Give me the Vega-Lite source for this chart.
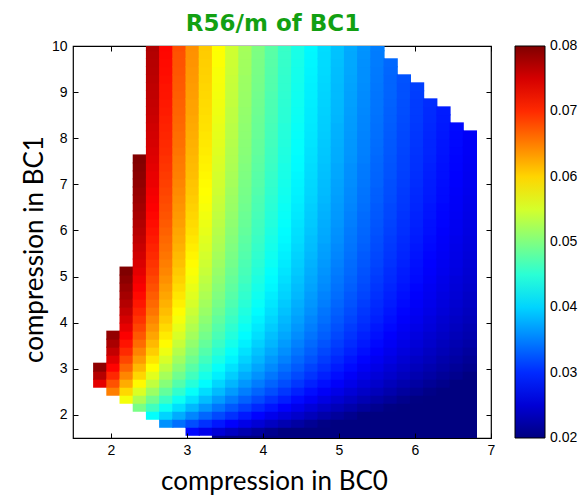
{
  "$schema": "https://vega.github.io/schema/vega-lite/v6.json",
  "description": "R56/m of BC1 over the compression in BC0 and BC1, drawn as a heat map of grid cells with a jet colour bar. Cells are drawn about one pixel wider and taller than the 0.1737 grid step so neighbours overlap instead of leaving hairline seams.",
  "width": 418,
  "height": 392,
  "autosize": {"type": "none"},
  "padding": {"left": 73, "top": 46, "right": 89, "bottom": 57},
  "background": "white",
  "config": {
    "view": {"stroke": "black", "strokeWidth": 1.2},
    "axis": {
      "grid": false, "domain": false,
      "tickColor": "black", "tickWidth": 1, "tickSize": -5,
      "labelFont": "Liberation Sans", "labelFontSize": 14, "labelColor": "black",
      "labelFlush": false, "labelOverlap": false, "format": "d",
      "titleFont": "Lato", "titleFontSize": 26, "titleFontWeight": "normal", "titleColor": "black"
    }
  },
  "title": {"text": "R56/m of BC1", "font": "DejaVu Sans", "fontSize": 23, "fontWeight": "bold", "color": "#12a012", "anchor": "middle", "baseline": "alphabetic", "offset": 16, "dx": -9, "dy": 31},
  "data": {"values": [
{"bc0":1.758,"bc1":2.6009,"r56":0.0741},{"bc0":1.758,"bc1":2.7746,"r56":0.0768},{"bc0":1.758,"bc1":2.9483,"r56":0.0791},
{"bc0":1.9317,"bc1":2.4272,"r56":0.0650},{"bc0":1.9317,"bc1":2.6009,"r56":0.0677},{"bc0":1.9317,"bc1":2.7746,"r56":0.0702},{"bc0":1.9317,"bc1":2.9483,"r56":0.0723},{"bc0":1.9317,"bc1":3.122,"r56":0.0743},{"bc0":1.9317,"bc1":3.2957,"r56":0.0760},{"bc0":1.9317,"bc1":3.4694,"r56":0.0775},{"bc0":1.9317,"bc1":3.6431,"r56":0.0789},
{"bc0":2.1054,"bc1":2.2535,"r56":0.0569},{"bc0":2.1054,"bc1":2.4272,"r56":0.0598},{"bc0":2.1054,"bc1":2.6009,"r56":0.0624},{"bc0":2.1054,"bc1":2.7746,"r56":0.0646},{"bc0":2.1054,"bc1":2.9483,"r56":0.0666},{"bc0":2.1054,"bc1":3.122,"r56":0.0684},{"bc0":2.1054,"bc1":3.2957,"r56":0.0700},{"bc0":2.1054,"bc1":3.4694,"r56":0.0714},{"bc0":2.1054,"bc1":3.6431,"r56":0.0727},{"bc0":2.1054,"bc1":3.8168,"r56":0.0739},{"bc0":2.1054,"bc1":3.9905,"r56":0.0750},{"bc0":2.1054,"bc1":4.1642,"r56":0.0760},{"bc0":2.1054,"bc1":4.3379,"r56":0.0769},{"bc0":2.1054,"bc1":4.5116,"r56":0.0778},{"bc0":2.1054,"bc1":4.6853,"r56":0.0785},{"bc0":2.1054,"bc1":4.859,"r56":0.0793},{"bc0":2.1054,"bc1":5.0327,"r56":0.0800},
{"bc0":2.2791,"bc1":2.0798,"r56":0.0496},{"bc0":2.2791,"bc1":2.2535,"r56":0.0527},{"bc0":2.2791,"bc1":2.4272,"r56":0.0554},{"bc0":2.2791,"bc1":2.6009,"r56":0.0578},{"bc0":2.2791,"bc1":2.7746,"r56":0.0599},{"bc0":2.2791,"bc1":2.9483,"r56":0.0617},{"bc0":2.2791,"bc1":3.122,"r56":0.0634},{"bc0":2.2791,"bc1":3.2957,"r56":0.0648},{"bc0":2.2791,"bc1":3.4694,"r56":0.0662},{"bc0":2.2791,"bc1":3.6431,"r56":0.0674},{"bc0":2.2791,"bc1":3.8168,"r56":0.0685},{"bc0":2.2791,"bc1":3.9905,"r56":0.0695},{"bc0":2.2791,"bc1":4.1642,"r56":0.0704},{"bc0":2.2791,"bc1":4.3379,"r56":0.0712},{"bc0":2.2791,"bc1":4.5116,"r56":0.0720},{"bc0":2.2791,"bc1":4.6853,"r56":0.0728},{"bc0":2.2791,"bc1":4.859,"r56":0.0734},{"bc0":2.2791,"bc1":5.0327,"r56":0.0741},{"bc0":2.2791,"bc1":5.2064,"r56":0.0747},{"bc0":2.2791,"bc1":5.3801,"r56":0.0752},{"bc0":2.2791,"bc1":5.5538,"r56":0.0757},{"bc0":2.2791,"bc1":5.7275,"r56":0.0762},{"bc0":2.2791,"bc1":5.9012,"r56":0.0767},{"bc0":2.2791,"bc1":6.0749,"r56":0.0771},{"bc0":2.2791,"bc1":6.2486,"r56":0.0775},{"bc0":2.2791,"bc1":6.4223,"r56":0.0779},{"bc0":2.2791,"bc1":6.596,"r56":0.0783},{"bc0":2.2791,"bc1":6.7697,"r56":0.0786},{"bc0":2.2791,"bc1":6.9434,"r56":0.0790},{"bc0":2.2791,"bc1":7.1171,"r56":0.0793},{"bc0":2.2791,"bc1":7.2908,"r56":0.0796},{"bc0":2.2791,"bc1":7.4645,"r56":0.0799},
{"bc0":2.4528,"bc1":1.9061,"r56":0.0427},{"bc0":2.4528,"bc1":2.0798,"r56":0.0462},{"bc0":2.4528,"bc1":2.2535,"r56":0.0491},{"bc0":2.4528,"bc1":2.4272,"r56":0.0516},{"bc0":2.4528,"bc1":2.6009,"r56":0.0538},{"bc0":2.4528,"bc1":2.7746,"r56":0.0558},{"bc0":2.4528,"bc1":2.9483,"r56":0.0575},{"bc0":2.4528,"bc1":3.122,"r56":0.0590},{"bc0":2.4528,"bc1":3.2957,"r56":0.0604},{"bc0":2.4528,"bc1":3.4694,"r56":0.0616},{"bc0":2.4528,"bc1":3.6431,"r56":0.0628},{"bc0":2.4528,"bc1":3.8168,"r56":0.0638},{"bc0":2.4528,"bc1":3.9905,"r56":0.0647},{"bc0":2.4528,"bc1":4.1642,"r56":0.0656},{"bc0":2.4528,"bc1":4.3379,"r56":0.0664},{"bc0":2.4528,"bc1":4.5116,"r56":0.0671},{"bc0":2.4528,"bc1":4.6853,"r56":0.0678},{"bc0":2.4528,"bc1":4.859,"r56":0.0684},{"bc0":2.4528,"bc1":5.0327,"r56":0.0690},{"bc0":2.4528,"bc1":5.2064,"r56":0.0695},{"bc0":2.4528,"bc1":5.3801,"r56":0.0701},{"bc0":2.4528,"bc1":5.5538,"r56":0.0705},{"bc0":2.4528,"bc1":5.7275,"r56":0.0710},{"bc0":2.4528,"bc1":5.9012,"r56":0.0714},{"bc0":2.4528,"bc1":6.0749,"r56":0.0718},{"bc0":2.4528,"bc1":6.2486,"r56":0.0722},{"bc0":2.4528,"bc1":6.4223,"r56":0.0726},{"bc0":2.4528,"bc1":6.596,"r56":0.0729},{"bc0":2.4528,"bc1":6.7697,"r56":0.0732},{"bc0":2.4528,"bc1":6.9434,"r56":0.0736},{"bc0":2.4528,"bc1":7.1171,"r56":0.0738},{"bc0":2.4528,"bc1":7.2908,"r56":0.0741},{"bc0":2.4528,"bc1":7.4645,"r56":0.0744},{"bc0":2.4528,"bc1":7.6382,"r56":0.0746},{"bc0":2.4528,"bc1":7.8119,"r56":0.0749},{"bc0":2.4528,"bc1":7.9856,"r56":0.0751},{"bc0":2.4528,"bc1":8.1593,"r56":0.0753},{"bc0":2.4528,"bc1":8.333,"r56":0.0756},{"bc0":2.4528,"bc1":8.5067,"r56":0.0758},{"bc0":2.4528,"bc1":8.6804,"r56":0.0760},{"bc0":2.4528,"bc1":8.8541,"r56":0.0762},{"bc0":2.4528,"bc1":9.0278,"r56":0.0763},{"bc0":2.4528,"bc1":9.2015,"r56":0.0765},{"bc0":2.4528,"bc1":9.3752,"r56":0.0767},{"bc0":2.4528,"bc1":9.5489,"r56":0.0768},{"bc0":2.4528,"bc1":9.7226,"r56":0.0770},{"bc0":2.4528,"bc1":9.8963,"r56":0.0772},
{"bc0":2.6265,"bc1":1.7324,"r56":0.0361},{"bc0":2.6265,"bc1":1.9061,"r56":0.0400},{"bc0":2.6265,"bc1":2.0798,"r56":0.0432},{"bc0":2.6265,"bc1":2.2535,"r56":0.0460},{"bc0":2.6265,"bc1":2.4272,"r56":0.0483},{"bc0":2.6265,"bc1":2.6009,"r56":0.0504},{"bc0":2.6265,"bc1":2.7746,"r56":0.0522},{"bc0":2.6265,"bc1":2.9483,"r56":0.0538},{"bc0":2.6265,"bc1":3.122,"r56":0.0552},{"bc0":2.6265,"bc1":3.2957,"r56":0.0565},{"bc0":2.6265,"bc1":3.4694,"r56":0.0577},{"bc0":2.6265,"bc1":3.6431,"r56":0.0587},{"bc0":2.6265,"bc1":3.8168,"r56":0.0597},{"bc0":2.6265,"bc1":3.9905,"r56":0.0606},{"bc0":2.6265,"bc1":4.1642,"r56":0.0614},{"bc0":2.6265,"bc1":4.3379,"r56":0.0621},{"bc0":2.6265,"bc1":4.5116,"r56":0.0628},{"bc0":2.6265,"bc1":4.6853,"r56":0.0634},{"bc0":2.6265,"bc1":4.859,"r56":0.0640},{"bc0":2.6265,"bc1":5.0327,"r56":0.0646},{"bc0":2.6265,"bc1":5.2064,"r56":0.0651},{"bc0":2.6265,"bc1":5.3801,"r56":0.0656},{"bc0":2.6265,"bc1":5.5538,"r56":0.0660},{"bc0":2.6265,"bc1":5.7275,"r56":0.0664},{"bc0":2.6265,"bc1":5.9012,"r56":0.0668},{"bc0":2.6265,"bc1":6.0749,"r56":0.0672},{"bc0":2.6265,"bc1":6.2486,"r56":0.0676},{"bc0":2.6265,"bc1":6.4223,"r56":0.0679},{"bc0":2.6265,"bc1":6.596,"r56":0.0682},{"bc0":2.6265,"bc1":6.7697,"r56":0.0685},{"bc0":2.6265,"bc1":6.9434,"r56":0.0688},{"bc0":2.6265,"bc1":7.1171,"r56":0.0691},{"bc0":2.6265,"bc1":7.2908,"r56":0.0694},{"bc0":2.6265,"bc1":7.4645,"r56":0.0696},{"bc0":2.6265,"bc1":7.6382,"r56":0.0699},{"bc0":2.6265,"bc1":7.8119,"r56":0.0701},{"bc0":2.6265,"bc1":7.9856,"r56":0.0703},{"bc0":2.6265,"bc1":8.1593,"r56":0.0705},{"bc0":2.6265,"bc1":8.333,"r56":0.0707},{"bc0":2.6265,"bc1":8.5067,"r56":0.0709},{"bc0":2.6265,"bc1":8.6804,"r56":0.0711},{"bc0":2.6265,"bc1":8.8541,"r56":0.0713},{"bc0":2.6265,"bc1":9.0278,"r56":0.0714},{"bc0":2.6265,"bc1":9.2015,"r56":0.0716},{"bc0":2.6265,"bc1":9.3752,"r56":0.0718},{"bc0":2.6265,"bc1":9.5489,"r56":0.0719},{"bc0":2.6265,"bc1":9.7226,"r56":0.0721},{"bc0":2.6265,"bc1":9.8963,"r56":0.0722},
{"bc0":2.8002,"bc1":1.7324,"r56":0.0340},{"bc0":2.8002,"bc1":1.9061,"r56":0.0376},{"bc0":2.8002,"bc1":2.0798,"r56":0.0406},{"bc0":2.8002,"bc1":2.2535,"r56":0.0432},{"bc0":2.8002,"bc1":2.4272,"r56":0.0454},{"bc0":2.8002,"bc1":2.6009,"r56":0.0474},{"bc0":2.8002,"bc1":2.7746,"r56":0.0491},{"bc0":2.8002,"bc1":2.9483,"r56":0.0506},{"bc0":2.8002,"bc1":3.122,"r56":0.0519},{"bc0":2.8002,"bc1":3.2957,"r56":0.0531},{"bc0":2.8002,"bc1":3.4694,"r56":0.0542},{"bc0":2.8002,"bc1":3.6431,"r56":0.0552},{"bc0":2.8002,"bc1":3.8168,"r56":0.0561},{"bc0":2.8002,"bc1":3.9905,"r56":0.0569},{"bc0":2.8002,"bc1":4.1642,"r56":0.0577},{"bc0":2.8002,"bc1":4.3379,"r56":0.0584},{"bc0":2.8002,"bc1":4.5116,"r56":0.0590},{"bc0":2.8002,"bc1":4.6853,"r56":0.0596},{"bc0":2.8002,"bc1":4.859,"r56":0.0602},{"bc0":2.8002,"bc1":5.0327,"r56":0.0607},{"bc0":2.8002,"bc1":5.2064,"r56":0.0612},{"bc0":2.8002,"bc1":5.3801,"r56":0.0616},{"bc0":2.8002,"bc1":5.5538,"r56":0.0621},{"bc0":2.8002,"bc1":5.7275,"r56":0.0625},{"bc0":2.8002,"bc1":5.9012,"r56":0.0628},{"bc0":2.8002,"bc1":6.0749,"r56":0.0632},{"bc0":2.8002,"bc1":6.2486,"r56":0.0635},{"bc0":2.8002,"bc1":6.4223,"r56":0.0638},{"bc0":2.8002,"bc1":6.596,"r56":0.0641},{"bc0":2.8002,"bc1":6.7697,"r56":0.0644},{"bc0":2.8002,"bc1":6.9434,"r56":0.0647},{"bc0":2.8002,"bc1":7.1171,"r56":0.0650},{"bc0":2.8002,"bc1":7.2908,"r56":0.0652},{"bc0":2.8002,"bc1":7.4645,"r56":0.0654},{"bc0":2.8002,"bc1":7.6382,"r56":0.0657},{"bc0":2.8002,"bc1":7.8119,"r56":0.0659},{"bc0":2.8002,"bc1":7.9856,"r56":0.0661},{"bc0":2.8002,"bc1":8.1593,"r56":0.0663},{"bc0":2.8002,"bc1":8.333,"r56":0.0665},{"bc0":2.8002,"bc1":8.5067,"r56":0.0667},{"bc0":2.8002,"bc1":8.6804,"r56":0.0668},{"bc0":2.8002,"bc1":8.8541,"r56":0.0670},{"bc0":2.8002,"bc1":9.0278,"r56":0.0672},{"bc0":2.8002,"bc1":9.2015,"r56":0.0673},{"bc0":2.8002,"bc1":9.3752,"r56":0.0675},{"bc0":2.8002,"bc1":9.5489,"r56":0.0676},{"bc0":2.8002,"bc1":9.7226,"r56":0.0677},{"bc0":2.8002,"bc1":9.8963,"r56":0.0679},
{"bc0":2.9739,"bc1":1.5587,"r56":0.0279},{"bc0":2.9739,"bc1":1.7324,"r56":0.0320},{"bc0":2.9739,"bc1":1.9061,"r56":0.0354},{"bc0":2.9739,"bc1":2.0798,"r56":0.0383},{"bc0":2.9739,"bc1":2.2535,"r56":0.0408},{"bc0":2.9739,"bc1":2.4272,"r56":0.0428},{"bc0":2.9739,"bc1":2.6009,"r56":0.0447},{"bc0":2.9739,"bc1":2.7746,"r56":0.0463},{"bc0":2.9739,"bc1":2.9483,"r56":0.0477},{"bc0":2.9739,"bc1":3.122,"r56":0.0490},{"bc0":2.9739,"bc1":3.2957,"r56":0.0501},{"bc0":2.9739,"bc1":3.4694,"r56":0.0511},{"bc0":2.9739,"bc1":3.6431,"r56":0.0521},{"bc0":2.9739,"bc1":3.8168,"r56":0.0529},{"bc0":2.9739,"bc1":3.9905,"r56":0.0537},{"bc0":2.9739,"bc1":4.1642,"r56":0.0544},{"bc0":2.9739,"bc1":4.3379,"r56":0.0551},{"bc0":2.9739,"bc1":4.5116,"r56":0.0557},{"bc0":2.9739,"bc1":4.6853,"r56":0.0562},{"bc0":2.9739,"bc1":4.859,"r56":0.0568},{"bc0":2.9739,"bc1":5.0327,"r56":0.0572},{"bc0":2.9739,"bc1":5.2064,"r56":0.0577},{"bc0":2.9739,"bc1":5.3801,"r56":0.0581},{"bc0":2.9739,"bc1":5.5538,"r56":0.0585},{"bc0":2.9739,"bc1":5.7275,"r56":0.0589},{"bc0":2.9739,"bc1":5.9012,"r56":0.0593},{"bc0":2.9739,"bc1":6.0749,"r56":0.0596},{"bc0":2.9739,"bc1":6.2486,"r56":0.0599},{"bc0":2.9739,"bc1":6.4223,"r56":0.0602},{"bc0":2.9739,"bc1":6.596,"r56":0.0605},{"bc0":2.9739,"bc1":6.7697,"r56":0.0608},{"bc0":2.9739,"bc1":6.9434,"r56":0.0610},{"bc0":2.9739,"bc1":7.1171,"r56":0.0613},{"bc0":2.9739,"bc1":7.2908,"r56":0.0615},{"bc0":2.9739,"bc1":7.4645,"r56":0.0617},{"bc0":2.9739,"bc1":7.6382,"r56":0.0619},{"bc0":2.9739,"bc1":7.8119,"r56":0.0621},{"bc0":2.9739,"bc1":7.9856,"r56":0.0623},{"bc0":2.9739,"bc1":8.1593,"r56":0.0625},{"bc0":2.9739,"bc1":8.333,"r56":0.0627},{"bc0":2.9739,"bc1":8.5067,"r56":0.0629},{"bc0":2.9739,"bc1":8.6804,"r56":0.0630},{"bc0":2.9739,"bc1":8.8541,"r56":0.0632},{"bc0":2.9739,"bc1":9.0278,"r56":0.0633},{"bc0":2.9739,"bc1":9.2015,"r56":0.0635},{"bc0":2.9739,"bc1":9.3752,"r56":0.0636},{"bc0":2.9739,"bc1":9.5489,"r56":0.0638},{"bc0":2.9739,"bc1":9.7226,"r56":0.0639},{"bc0":2.9739,"bc1":9.8963,"r56":0.0640},
{"bc0":3.1476,"bc1":1.5587,"r56":0.0264},{"bc0":3.1476,"bc1":1.7324,"r56":0.0303},{"bc0":3.1476,"bc1":1.9061,"r56":0.0335},{"bc0":3.1476,"bc1":2.0798,"r56":0.0363},{"bc0":3.1476,"bc1":2.2535,"r56":0.0386},{"bc0":3.1476,"bc1":2.4272,"r56":0.0405},{"bc0":3.1476,"bc1":2.6009,"r56":0.0423},{"bc0":3.1476,"bc1":2.7746,"r56":0.0438},{"bc0":3.1476,"bc1":2.9483,"r56":0.0451},{"bc0":3.1476,"bc1":3.122,"r56":0.0463},{"bc0":3.1476,"bc1":3.2957,"r56":0.0474},{"bc0":3.1476,"bc1":3.4694,"r56":0.0484},{"bc0":3.1476,"bc1":3.6431,"r56":0.0493},{"bc0":3.1476,"bc1":3.8168,"r56":0.0501},{"bc0":3.1476,"bc1":3.9905,"r56":0.0508},{"bc0":3.1476,"bc1":4.1642,"r56":0.0515},{"bc0":3.1476,"bc1":4.3379,"r56":0.0521},{"bc0":3.1476,"bc1":4.5116,"r56":0.0527},{"bc0":3.1476,"bc1":4.6853,"r56":0.0532},{"bc0":3.1476,"bc1":4.859,"r56":0.0537},{"bc0":3.1476,"bc1":5.0327,"r56":0.0542},{"bc0":3.1476,"bc1":5.2064,"r56":0.0546},{"bc0":3.1476,"bc1":5.3801,"r56":0.0550},{"bc0":3.1476,"bc1":5.5538,"r56":0.0554},{"bc0":3.1476,"bc1":5.7275,"r56":0.0557},{"bc0":3.1476,"bc1":5.9012,"r56":0.0561},{"bc0":3.1476,"bc1":6.0749,"r56":0.0564},{"bc0":3.1476,"bc1":6.2486,"r56":0.0567},{"bc0":3.1476,"bc1":6.4223,"r56":0.0570},{"bc0":3.1476,"bc1":6.596,"r56":0.0573},{"bc0":3.1476,"bc1":6.7697,"r56":0.0575},{"bc0":3.1476,"bc1":6.9434,"r56":0.0577},{"bc0":3.1476,"bc1":7.1171,"r56":0.0580},{"bc0":3.1476,"bc1":7.2908,"r56":0.0582},{"bc0":3.1476,"bc1":7.4645,"r56":0.0584},{"bc0":3.1476,"bc1":7.6382,"r56":0.0586},{"bc0":3.1476,"bc1":7.8119,"r56":0.0588},{"bc0":3.1476,"bc1":7.9856,"r56":0.0590},{"bc0":3.1476,"bc1":8.1593,"r56":0.0592},{"bc0":3.1476,"bc1":8.333,"r56":0.0593},{"bc0":3.1476,"bc1":8.5067,"r56":0.0595},{"bc0":3.1476,"bc1":8.6804,"r56":0.0596},{"bc0":3.1476,"bc1":8.8541,"r56":0.0598},{"bc0":3.1476,"bc1":9.0278,"r56":0.0599},{"bc0":3.1476,"bc1":9.2015,"r56":0.0601},{"bc0":3.1476,"bc1":9.3752,"r56":0.0602},{"bc0":3.1476,"bc1":9.5489,"r56":0.0603},{"bc0":3.1476,"bc1":9.7226,"r56":0.0605},{"bc0":3.1476,"bc1":9.8963,"r56":0.0606},
{"bc0":3.3213,"bc1":1.385,"r56":0.0205},{"bc0":3.3213,"bc1":1.5587,"r56":0.0251},{"bc0":3.3213,"bc1":1.7324,"r56":0.0288},{"bc0":3.3213,"bc1":1.9061,"r56":0.0318},{"bc0":3.3213,"bc1":2.0798,"r56":0.0344},{"bc0":3.3213,"bc1":2.2535,"r56":0.0366},{"bc0":3.3213,"bc1":2.4272,"r56":0.0385},{"bc0":3.3213,"bc1":2.6009,"r56":0.0401},{"bc0":3.3213,"bc1":2.7746,"r56":0.0416},{"bc0":3.3213,"bc1":2.9483,"r56":0.0428},{"bc0":3.3213,"bc1":3.122,"r56":0.0440},{"bc0":3.3213,"bc1":3.2957,"r56":0.0450},{"bc0":3.3213,"bc1":3.4694,"r56":0.0459},{"bc0":3.3213,"bc1":3.6431,"r56":0.0468},{"bc0":3.3213,"bc1":3.8168,"r56":0.0475},{"bc0":3.3213,"bc1":3.9905,"r56":0.0482},{"bc0":3.3213,"bc1":4.1642,"r56":0.0489},{"bc0":3.3213,"bc1":4.3379,"r56":0.0495},{"bc0":3.3213,"bc1":4.5116,"r56":0.0500},{"bc0":3.3213,"bc1":4.6853,"r56":0.0505},{"bc0":3.3213,"bc1":4.859,"r56":0.0510},{"bc0":3.3213,"bc1":5.0327,"r56":0.0514},{"bc0":3.3213,"bc1":5.2064,"r56":0.0518},{"bc0":3.3213,"bc1":5.3801,"r56":0.0522},{"bc0":3.3213,"bc1":5.5538,"r56":0.0526},{"bc0":3.3213,"bc1":5.7275,"r56":0.0529},{"bc0":3.3213,"bc1":5.9012,"r56":0.0532},{"bc0":3.3213,"bc1":6.0749,"r56":0.0535},{"bc0":3.3213,"bc1":6.2486,"r56":0.0538},{"bc0":3.3213,"bc1":6.4223,"r56":0.0541},{"bc0":3.3213,"bc1":6.596,"r56":0.0543},{"bc0":3.3213,"bc1":6.7697,"r56":0.0546},{"bc0":3.3213,"bc1":6.9434,"r56":0.0548},{"bc0":3.3213,"bc1":7.1171,"r56":0.0550},{"bc0":3.3213,"bc1":7.2908,"r56":0.0552},{"bc0":3.3213,"bc1":7.4645,"r56":0.0554},{"bc0":3.3213,"bc1":7.6382,"r56":0.0556},{"bc0":3.3213,"bc1":7.8119,"r56":0.0558},{"bc0":3.3213,"bc1":7.9856,"r56":0.0560},{"bc0":3.3213,"bc1":8.1593,"r56":0.0561},{"bc0":3.3213,"bc1":8.333,"r56":0.0563},{"bc0":3.3213,"bc1":8.5067,"r56":0.0565},{"bc0":3.3213,"bc1":8.6804,"r56":0.0566},{"bc0":3.3213,"bc1":8.8541,"r56":0.0568},{"bc0":3.3213,"bc1":9.0278,"r56":0.0569},{"bc0":3.3213,"bc1":9.2015,"r56":0.0570},{"bc0":3.3213,"bc1":9.3752,"r56":0.0571},{"bc0":3.3213,"bc1":9.5489,"r56":0.0573},{"bc0":3.3213,"bc1":9.7226,"r56":0.0574},{"bc0":3.3213,"bc1":9.8963,"r56":0.0575},
{"bc0":3.495,"bc1":1.385,"r56":0.0195},{"bc0":3.495,"bc1":1.5587,"r56":0.0239},{"bc0":3.495,"bc1":1.7324,"r56":0.0274},{"bc0":3.495,"bc1":1.9061,"r56":0.0303},{"bc0":3.495,"bc1":2.0798,"r56":0.0327},{"bc0":3.495,"bc1":2.2535,"r56":0.0348},{"bc0":3.495,"bc1":2.4272,"r56":0.0366},{"bc0":3.495,"bc1":2.6009,"r56":0.0382},{"bc0":3.495,"bc1":2.7746,"r56":0.0396},{"bc0":3.495,"bc1":2.9483,"r56":0.0408},{"bc0":3.495,"bc1":3.122,"r56":0.0419},{"bc0":3.495,"bc1":3.2957,"r56":0.0428},{"bc0":3.495,"bc1":3.4694,"r56":0.0437},{"bc0":3.495,"bc1":3.6431,"r56":0.0445},{"bc0":3.495,"bc1":3.8168,"r56":0.0452},{"bc0":3.495,"bc1":3.9905,"r56":0.0459},{"bc0":3.495,"bc1":4.1642,"r56":0.0465},{"bc0":3.495,"bc1":4.3379,"r56":0.0471},{"bc0":3.495,"bc1":4.5116,"r56":0.0476},{"bc0":3.495,"bc1":4.6853,"r56":0.0481},{"bc0":3.495,"bc1":4.859,"r56":0.0485},{"bc0":3.495,"bc1":5.0327,"r56":0.0489},{"bc0":3.495,"bc1":5.2064,"r56":0.0493},{"bc0":3.495,"bc1":5.3801,"r56":0.0497},{"bc0":3.495,"bc1":5.5538,"r56":0.0500},{"bc0":3.495,"bc1":5.7275,"r56":0.0503},{"bc0":3.495,"bc1":5.9012,"r56":0.0506},{"bc0":3.495,"bc1":6.0749,"r56":0.0509},{"bc0":3.495,"bc1":6.2486,"r56":0.0512},{"bc0":3.495,"bc1":6.4223,"r56":0.0515},{"bc0":3.495,"bc1":6.596,"r56":0.0517},{"bc0":3.495,"bc1":6.7697,"r56":0.0519},{"bc0":3.495,"bc1":6.9434,"r56":0.0522},{"bc0":3.495,"bc1":7.1171,"r56":0.0524},{"bc0":3.495,"bc1":7.2908,"r56":0.0526},{"bc0":3.495,"bc1":7.4645,"r56":0.0528},{"bc0":3.495,"bc1":7.6382,"r56":0.0529},{"bc0":3.495,"bc1":7.8119,"r56":0.0531},{"bc0":3.495,"bc1":7.9856,"r56":0.0533},{"bc0":3.495,"bc1":8.1593,"r56":0.0534},{"bc0":3.495,"bc1":8.333,"r56":0.0536},{"bc0":3.495,"bc1":8.5067,"r56":0.0537},{"bc0":3.495,"bc1":8.6804,"r56":0.0539},{"bc0":3.495,"bc1":8.8541,"r56":0.0540},{"bc0":3.495,"bc1":9.0278,"r56":0.0541},{"bc0":3.495,"bc1":9.2015,"r56":0.0542},{"bc0":3.495,"bc1":9.3752,"r56":0.0544},{"bc0":3.495,"bc1":9.5489,"r56":0.0545},{"bc0":3.495,"bc1":9.7226,"r56":0.0546},{"bc0":3.495,"bc1":9.8963,"r56":0.0547},
{"bc0":3.6687,"bc1":1.385,"r56":0.0186},{"bc0":3.6687,"bc1":1.5587,"r56":0.0228},{"bc0":3.6687,"bc1":1.7324,"r56":0.0261},{"bc0":3.6687,"bc1":1.9061,"r56":0.0289},{"bc0":3.6687,"bc1":2.0798,"r56":0.0312},{"bc0":3.6687,"bc1":2.2535,"r56":0.0332},{"bc0":3.6687,"bc1":2.4272,"r56":0.0349},{"bc0":3.6687,"bc1":2.6009,"r56":0.0364},{"bc0":3.6687,"bc1":2.7746,"r56":0.0377},{"bc0":3.6687,"bc1":2.9483,"r56":0.0389},{"bc0":3.6687,"bc1":3.122,"r56":0.0399},{"bc0":3.6687,"bc1":3.2957,"r56":0.0408},{"bc0":3.6687,"bc1":3.4694,"r56":0.0417},{"bc0":3.6687,"bc1":3.6431,"r56":0.0424},{"bc0":3.6687,"bc1":3.8168,"r56":0.0431},{"bc0":3.6687,"bc1":3.9905,"r56":0.0438},{"bc0":3.6687,"bc1":4.1642,"r56":0.0443},{"bc0":3.6687,"bc1":4.3379,"r56":0.0449},{"bc0":3.6687,"bc1":4.5116,"r56":0.0454},{"bc0":3.6687,"bc1":4.6853,"r56":0.0458},{"bc0":3.6687,"bc1":4.859,"r56":0.0463},{"bc0":3.6687,"bc1":5.0327,"r56":0.0467},{"bc0":3.6687,"bc1":5.2064,"r56":0.0470},{"bc0":3.6687,"bc1":5.3801,"r56":0.0474},{"bc0":3.6687,"bc1":5.5538,"r56":0.0477},{"bc0":3.6687,"bc1":5.7275,"r56":0.0480},{"bc0":3.6687,"bc1":5.9012,"r56":0.0483},{"bc0":3.6687,"bc1":6.0749,"r56":0.0486},{"bc0":3.6687,"bc1":6.2486,"r56":0.0488},{"bc0":3.6687,"bc1":6.4223,"r56":0.0491},{"bc0":3.6687,"bc1":6.596,"r56":0.0493},{"bc0":3.6687,"bc1":6.7697,"r56":0.0495},{"bc0":3.6687,"bc1":6.9434,"r56":0.0497},{"bc0":3.6687,"bc1":7.1171,"r56":0.0499},{"bc0":3.6687,"bc1":7.2908,"r56":0.0501},{"bc0":3.6687,"bc1":7.4645,"r56":0.0503},{"bc0":3.6687,"bc1":7.6382,"r56":0.0505},{"bc0":3.6687,"bc1":7.8119,"r56":0.0506},{"bc0":3.6687,"bc1":7.9856,"r56":0.0508},{"bc0":3.6687,"bc1":8.1593,"r56":0.0509},{"bc0":3.6687,"bc1":8.333,"r56":0.0511},{"bc0":3.6687,"bc1":8.5067,"r56":0.0512},{"bc0":3.6687,"bc1":8.6804,"r56":0.0514},{"bc0":3.6687,"bc1":8.8541,"r56":0.0515},{"bc0":3.6687,"bc1":9.0278,"r56":0.0516},{"bc0":3.6687,"bc1":9.2015,"r56":0.0517},{"bc0":3.6687,"bc1":9.3752,"r56":0.0519},{"bc0":3.6687,"bc1":9.5489,"r56":0.0520},{"bc0":3.6687,"bc1":9.7226,"r56":0.0521},{"bc0":3.6687,"bc1":9.8963,"r56":0.0522},
{"bc0":3.8424,"bc1":1.385,"r56":0.0178},{"bc0":3.8424,"bc1":1.5587,"r56":0.0218},{"bc0":3.8424,"bc1":1.7324,"r56":0.0250},{"bc0":3.8424,"bc1":1.9061,"r56":0.0276},{"bc0":3.8424,"bc1":2.0798,"r56":0.0298},{"bc0":3.8424,"bc1":2.2535,"r56":0.0318},{"bc0":3.8424,"bc1":2.4272,"r56":0.0334},{"bc0":3.8424,"bc1":2.6009,"r56":0.0348},{"bc0":3.8424,"bc1":2.7746,"r56":0.0361},{"bc0":3.8424,"bc1":2.9483,"r56":0.0372},{"bc0":3.8424,"bc1":3.122,"r56":0.0382},{"bc0":3.8424,"bc1":3.2957,"r56":0.0390},{"bc0":3.8424,"bc1":3.4694,"r56":0.0398},{"bc0":3.8424,"bc1":3.6431,"r56":0.0406},{"bc0":3.8424,"bc1":3.8168,"r56":0.0412},{"bc0":3.8424,"bc1":3.9905,"r56":0.0418},{"bc0":3.8424,"bc1":4.1642,"r56":0.0424},{"bc0":3.8424,"bc1":4.3379,"r56":0.0429},{"bc0":3.8424,"bc1":4.5116,"r56":0.0434},{"bc0":3.8424,"bc1":4.6853,"r56":0.0438},{"bc0":3.8424,"bc1":4.859,"r56":0.0442},{"bc0":3.8424,"bc1":5.0327,"r56":0.0446},{"bc0":3.8424,"bc1":5.2064,"r56":0.0450},{"bc0":3.8424,"bc1":5.3801,"r56":0.0453},{"bc0":3.8424,"bc1":5.5538,"r56":0.0456},{"bc0":3.8424,"bc1":5.7275,"r56":0.0459},{"bc0":3.8424,"bc1":5.9012,"r56":0.0462},{"bc0":3.8424,"bc1":6.0749,"r56":0.0464},{"bc0":3.8424,"bc1":6.2486,"r56":0.0467},{"bc0":3.8424,"bc1":6.4223,"r56":0.0469},{"bc0":3.8424,"bc1":6.596,"r56":0.0471},{"bc0":3.8424,"bc1":6.7697,"r56":0.0474},{"bc0":3.8424,"bc1":6.9434,"r56":0.0476},{"bc0":3.8424,"bc1":7.1171,"r56":0.0477},{"bc0":3.8424,"bc1":7.2908,"r56":0.0479},{"bc0":3.8424,"bc1":7.4645,"r56":0.0481},{"bc0":3.8424,"bc1":7.6382,"r56":0.0483},{"bc0":3.8424,"bc1":7.8119,"r56":0.0484},{"bc0":3.8424,"bc1":7.9856,"r56":0.0486},{"bc0":3.8424,"bc1":8.1593,"r56":0.0487},{"bc0":3.8424,"bc1":8.333,"r56":0.0488},{"bc0":3.8424,"bc1":8.5067,"r56":0.0490},{"bc0":3.8424,"bc1":8.6804,"r56":0.0491},{"bc0":3.8424,"bc1":8.8541,"r56":0.0492},{"bc0":3.8424,"bc1":9.0278,"r56":0.0494},{"bc0":3.8424,"bc1":9.2015,"r56":0.0495},{"bc0":3.8424,"bc1":9.3752,"r56":0.0496},{"bc0":3.8424,"bc1":9.5489,"r56":0.0497},{"bc0":3.8424,"bc1":9.7226,"r56":0.0498},{"bc0":3.8424,"bc1":9.8963,"r56":0.0499},
{"bc0":4.0161,"bc1":1.385,"r56":0.0170},{"bc0":4.0161,"bc1":1.5587,"r56":0.0208},{"bc0":4.0161,"bc1":1.7324,"r56":0.0239},{"bc0":4.0161,"bc1":1.9061,"r56":0.0264},{"bc0":4.0161,"bc1":2.0798,"r56":0.0286},{"bc0":4.0161,"bc1":2.2535,"r56":0.0304},{"bc0":4.0161,"bc1":2.4272,"r56":0.0320},{"bc0":4.0161,"bc1":2.6009,"r56":0.0333},{"bc0":4.0161,"bc1":2.7746,"r56":0.0345},{"bc0":4.0161,"bc1":2.9483,"r56":0.0356},{"bc0":4.0161,"bc1":3.122,"r56":0.0365},{"bc0":4.0161,"bc1":3.2957,"r56":0.0374},{"bc0":4.0161,"bc1":3.4694,"r56":0.0382},{"bc0":4.0161,"bc1":3.6431,"r56":0.0388},{"bc0":4.0161,"bc1":3.8168,"r56":0.0395},{"bc0":4.0161,"bc1":3.9905,"r56":0.0401},{"bc0":4.0161,"bc1":4.1642,"r56":0.0406},{"bc0":4.0161,"bc1":4.3379,"r56":0.0411},{"bc0":4.0161,"bc1":4.5116,"r56":0.0415},{"bc0":4.0161,"bc1":4.6853,"r56":0.0420},{"bc0":4.0161,"bc1":4.859,"r56":0.0423},{"bc0":4.0161,"bc1":5.0327,"r56":0.0427},{"bc0":4.0161,"bc1":5.2064,"r56":0.0431},{"bc0":4.0161,"bc1":5.3801,"r56":0.0434},{"bc0":4.0161,"bc1":5.5538,"r56":0.0437},{"bc0":4.0161,"bc1":5.7275,"r56":0.0439},{"bc0":4.0161,"bc1":5.9012,"r56":0.0442},{"bc0":4.0161,"bc1":6.0749,"r56":0.0445},{"bc0":4.0161,"bc1":6.2486,"r56":0.0447},{"bc0":4.0161,"bc1":6.4223,"r56":0.0449},{"bc0":4.0161,"bc1":6.596,"r56":0.0451},{"bc0":4.0161,"bc1":6.7697,"r56":0.0453},{"bc0":4.0161,"bc1":6.9434,"r56":0.0455},{"bc0":4.0161,"bc1":7.1171,"r56":0.0457},{"bc0":4.0161,"bc1":7.2908,"r56":0.0459},{"bc0":4.0161,"bc1":7.4645,"r56":0.0461},{"bc0":4.0161,"bc1":7.6382,"r56":0.0462},{"bc0":4.0161,"bc1":7.8119,"r56":0.0464},{"bc0":4.0161,"bc1":7.9856,"r56":0.0465},{"bc0":4.0161,"bc1":8.1593,"r56":0.0466},{"bc0":4.0161,"bc1":8.333,"r56":0.0468},{"bc0":4.0161,"bc1":8.5067,"r56":0.0469},{"bc0":4.0161,"bc1":8.6804,"r56":0.0470},{"bc0":4.0161,"bc1":8.8541,"r56":0.0471},{"bc0":4.0161,"bc1":9.0278,"r56":0.0473},{"bc0":4.0161,"bc1":9.2015,"r56":0.0474},{"bc0":4.0161,"bc1":9.3752,"r56":0.0475},{"bc0":4.0161,"bc1":9.5489,"r56":0.0476},{"bc0":4.0161,"bc1":9.7226,"r56":0.0477},{"bc0":4.0161,"bc1":9.8963,"r56":0.0478},
{"bc0":4.1898,"bc1":1.385,"r56":0.0163},{"bc0":4.1898,"bc1":1.5587,"r56":0.0200},{"bc0":4.1898,"bc1":1.7324,"r56":0.0229},{"bc0":4.1898,"bc1":1.9061,"r56":0.0254},{"bc0":4.1898,"bc1":2.0798,"r56":0.0274},{"bc0":4.1898,"bc1":2.2535,"r56":0.0292},{"bc0":4.1898,"bc1":2.4272,"r56":0.0307},{"bc0":4.1898,"bc1":2.6009,"r56":0.0320},{"bc0":4.1898,"bc1":2.7746,"r56":0.0331},{"bc0":4.1898,"bc1":2.9483,"r56":0.0341},{"bc0":4.1898,"bc1":3.122,"r56":0.0351},{"bc0":4.1898,"bc1":3.2957,"r56":0.0359},{"bc0":4.1898,"bc1":3.4694,"r56":0.0366},{"bc0":4.1898,"bc1":3.6431,"r56":0.0373},{"bc0":4.1898,"bc1":3.8168,"r56":0.0379},{"bc0":4.1898,"bc1":3.9905,"r56":0.0384},{"bc0":4.1898,"bc1":4.1642,"r56":0.0389},{"bc0":4.1898,"bc1":4.3379,"r56":0.0394},{"bc0":4.1898,"bc1":4.5116,"r56":0.0399},{"bc0":4.1898,"bc1":4.6853,"r56":0.0402},{"bc0":4.1898,"bc1":4.859,"r56":0.0406},{"bc0":4.1898,"bc1":5.0327,"r56":0.0410},{"bc0":4.1898,"bc1":5.2064,"r56":0.0413},{"bc0":4.1898,"bc1":5.3801,"r56":0.0416},{"bc0":4.1898,"bc1":5.5538,"r56":0.0419},{"bc0":4.1898,"bc1":5.7275,"r56":0.0422},{"bc0":4.1898,"bc1":5.9012,"r56":0.0424},{"bc0":4.1898,"bc1":6.0749,"r56":0.0427},{"bc0":4.1898,"bc1":6.2486,"r56":0.0429},{"bc0":4.1898,"bc1":6.4223,"r56":0.0431},{"bc0":4.1898,"bc1":6.596,"r56":0.0433},{"bc0":4.1898,"bc1":6.7697,"r56":0.0435},{"bc0":4.1898,"bc1":6.9434,"r56":0.0437},{"bc0":4.1898,"bc1":7.1171,"r56":0.0439},{"bc0":4.1898,"bc1":7.2908,"r56":0.0440},{"bc0":4.1898,"bc1":7.4645,"r56":0.0442},{"bc0":4.1898,"bc1":7.6382,"r56":0.0443},{"bc0":4.1898,"bc1":7.8119,"r56":0.0445},{"bc0":4.1898,"bc1":7.9856,"r56":0.0446},{"bc0":4.1898,"bc1":8.1593,"r56":0.0447},{"bc0":4.1898,"bc1":8.333,"r56":0.0449},{"bc0":4.1898,"bc1":8.5067,"r56":0.0450},{"bc0":4.1898,"bc1":8.6804,"r56":0.0451},{"bc0":4.1898,"bc1":8.8541,"r56":0.0452},{"bc0":4.1898,"bc1":9.0278,"r56":0.0453},{"bc0":4.1898,"bc1":9.2015,"r56":0.0454},{"bc0":4.1898,"bc1":9.3752,"r56":0.0455},{"bc0":4.1898,"bc1":9.5489,"r56":0.0456},{"bc0":4.1898,"bc1":9.7226,"r56":0.0457},{"bc0":4.1898,"bc1":9.8963,"r56":0.0458},
{"bc0":4.3635,"bc1":1.385,"r56":0.0157},{"bc0":4.3635,"bc1":1.5587,"r56":0.0192},{"bc0":4.3635,"bc1":1.7324,"r56":0.0220},{"bc0":4.3635,"bc1":1.9061,"r56":0.0244},{"bc0":4.3635,"bc1":2.0798,"r56":0.0263},{"bc0":4.3635,"bc1":2.2535,"r56":0.0280},{"bc0":4.3635,"bc1":2.4272,"r56":0.0294},{"bc0":4.3635,"bc1":2.6009,"r56":0.0307},{"bc0":4.3635,"bc1":2.7746,"r56":0.0318},{"bc0":4.3635,"bc1":2.9483,"r56":0.0328},{"bc0":4.3635,"bc1":3.122,"r56":0.0336},{"bc0":4.3635,"bc1":3.2957,"r56":0.0344},{"bc0":4.3635,"bc1":3.4694,"r56":0.0351},{"bc0":4.3635,"bc1":3.6431,"r56":0.0358},{"bc0":4.3635,"bc1":3.8168,"r56":0.0364},{"bc0":4.3635,"bc1":3.9905,"r56":0.0369},{"bc0":4.3635,"bc1":4.1642,"r56":0.0374},{"bc0":4.3635,"bc1":4.3379,"r56":0.0378},{"bc0":4.3635,"bc1":4.5116,"r56":0.0383},{"bc0":4.3635,"bc1":4.6853,"r56":0.0386},{"bc0":4.3635,"bc1":4.859,"r56":0.0390},{"bc0":4.3635,"bc1":5.0327,"r56":0.0393},{"bc0":4.3635,"bc1":5.2064,"r56":0.0396},{"bc0":4.3635,"bc1":5.3801,"r56":0.0399},{"bc0":4.3635,"bc1":5.5538,"r56":0.0402},{"bc0":4.3635,"bc1":5.7275,"r56":0.0405},{"bc0":4.3635,"bc1":5.9012,"r56":0.0407},{"bc0":4.3635,"bc1":6.0749,"r56":0.0409},{"bc0":4.3635,"bc1":6.2486,"r56":0.0412},{"bc0":4.3635,"bc1":6.4223,"r56":0.0414},{"bc0":4.3635,"bc1":6.596,"r56":0.0416},{"bc0":4.3635,"bc1":6.7697,"r56":0.0418},{"bc0":4.3635,"bc1":6.9434,"r56":0.0419},{"bc0":4.3635,"bc1":7.1171,"r56":0.0421},{"bc0":4.3635,"bc1":7.2908,"r56":0.0423},{"bc0":4.3635,"bc1":7.4645,"r56":0.0424},{"bc0":4.3635,"bc1":7.6382,"r56":0.0426},{"bc0":4.3635,"bc1":7.8119,"r56":0.0427},{"bc0":4.3635,"bc1":7.9856,"r56":0.0428},{"bc0":4.3635,"bc1":8.1593,"r56":0.0429},{"bc0":4.3635,"bc1":8.333,"r56":0.0431},{"bc0":4.3635,"bc1":8.5067,"r56":0.0432},{"bc0":4.3635,"bc1":8.6804,"r56":0.0433},{"bc0":4.3635,"bc1":8.8541,"r56":0.0434},{"bc0":4.3635,"bc1":9.0278,"r56":0.0435},{"bc0":4.3635,"bc1":9.2015,"r56":0.0436},{"bc0":4.3635,"bc1":9.3752,"r56":0.0437},{"bc0":4.3635,"bc1":9.5489,"r56":0.0438},{"bc0":4.3635,"bc1":9.7226,"r56":0.0439},{"bc0":4.3635,"bc1":9.8963,"r56":0.0440},
{"bc0":4.5372,"bc1":1.385,"r56":0.0150},{"bc0":4.5372,"bc1":1.5587,"r56":0.0184},{"bc0":4.5372,"bc1":1.7324,"r56":0.0211},{"bc0":4.5372,"bc1":1.9061,"r56":0.0234},{"bc0":4.5372,"bc1":2.0798,"r56":0.0252},{"bc0":4.5372,"bc1":2.2535,"r56":0.0269},{"bc0":4.5372,"bc1":2.4272,"r56":0.0282},{"bc0":4.5372,"bc1":2.6009,"r56":0.0294},{"bc0":4.5372,"bc1":2.7746,"r56":0.0305},{"bc0":4.5372,"bc1":2.9483,"r56":0.0314},{"bc0":4.5372,"bc1":3.122,"r56":0.0323},{"bc0":4.5372,"bc1":3.2957,"r56":0.0330},{"bc0":4.5372,"bc1":3.4694,"r56":0.0337},{"bc0":4.5372,"bc1":3.6431,"r56":0.0343},{"bc0":4.5372,"bc1":3.8168,"r56":0.0349},{"bc0":4.5372,"bc1":3.9905,"r56":0.0354},{"bc0":4.5372,"bc1":4.1642,"r56":0.0359},{"bc0":4.5372,"bc1":4.3379,"r56":0.0363},{"bc0":4.5372,"bc1":4.5116,"r56":0.0367},{"bc0":4.5372,"bc1":4.6853,"r56":0.0371},{"bc0":4.5372,"bc1":4.859,"r56":0.0374},{"bc0":4.5372,"bc1":5.0327,"r56":0.0377},{"bc0":4.5372,"bc1":5.2064,"r56":0.0380},{"bc0":4.5372,"bc1":5.3801,"r56":0.0383},{"bc0":4.5372,"bc1":5.5538,"r56":0.0386},{"bc0":4.5372,"bc1":5.7275,"r56":0.0388},{"bc0":4.5372,"bc1":5.9012,"r56":0.0391},{"bc0":4.5372,"bc1":6.0749,"r56":0.0393},{"bc0":4.5372,"bc1":6.2486,"r56":0.0395},{"bc0":4.5372,"bc1":6.4223,"r56":0.0397},{"bc0":4.5372,"bc1":6.596,"r56":0.0399},{"bc0":4.5372,"bc1":6.7697,"r56":0.0401},{"bc0":4.5372,"bc1":6.9434,"r56":0.0402},{"bc0":4.5372,"bc1":7.1171,"r56":0.0404},{"bc0":4.5372,"bc1":7.2908,"r56":0.0405},{"bc0":4.5372,"bc1":7.4645,"r56":0.0407},{"bc0":4.5372,"bc1":7.6382,"r56":0.0408},{"bc0":4.5372,"bc1":7.8119,"r56":0.0410},{"bc0":4.5372,"bc1":7.9856,"r56":0.0411},{"bc0":4.5372,"bc1":8.1593,"r56":0.0412},{"bc0":4.5372,"bc1":8.333,"r56":0.0413},{"bc0":4.5372,"bc1":8.5067,"r56":0.0414},{"bc0":4.5372,"bc1":8.6804,"r56":0.0415},{"bc0":4.5372,"bc1":8.8541,"r56":0.0416},{"bc0":4.5372,"bc1":9.0278,"r56":0.0417},{"bc0":4.5372,"bc1":9.2015,"r56":0.0418},{"bc0":4.5372,"bc1":9.3752,"r56":0.0419},{"bc0":4.5372,"bc1":9.5489,"r56":0.0420},{"bc0":4.5372,"bc1":9.7226,"r56":0.0421},{"bc0":4.5372,"bc1":9.8963,"r56":0.0422},
{"bc0":4.7109,"bc1":1.385,"r56":0.0144},{"bc0":4.7109,"bc1":1.5587,"r56":0.0177},{"bc0":4.7109,"bc1":1.7324,"r56":0.0203},{"bc0":4.7109,"bc1":1.9061,"r56":0.0224},{"bc0":4.7109,"bc1":2.0798,"r56":0.0242},{"bc0":4.7109,"bc1":2.2535,"r56":0.0258},{"bc0":4.7109,"bc1":2.4272,"r56":0.0271},{"bc0":4.7109,"bc1":2.6009,"r56":0.0283},{"bc0":4.7109,"bc1":2.7746,"r56":0.0293},{"bc0":4.7109,"bc1":2.9483,"r56":0.0302},{"bc0":4.7109,"bc1":3.122,"r56":0.0310},{"bc0":4.7109,"bc1":3.2957,"r56":0.0317},{"bc0":4.7109,"bc1":3.4694,"r56":0.0324},{"bc0":4.7109,"bc1":3.6431,"r56":0.0330},{"bc0":4.7109,"bc1":3.8168,"r56":0.0335},{"bc0":4.7109,"bc1":3.9905,"r56":0.0340},{"bc0":4.7109,"bc1":4.1642,"r56":0.0344},{"bc0":4.7109,"bc1":4.3379,"r56":0.0349},{"bc0":4.7109,"bc1":4.5116,"r56":0.0352},{"bc0":4.7109,"bc1":4.6853,"r56":0.0356},{"bc0":4.7109,"bc1":4.859,"r56":0.0359},{"bc0":4.7109,"bc1":5.0327,"r56":0.0362},{"bc0":4.7109,"bc1":5.2064,"r56":0.0365},{"bc0":4.7109,"bc1":5.3801,"r56":0.0368},{"bc0":4.7109,"bc1":5.5538,"r56":0.0370},{"bc0":4.7109,"bc1":5.7275,"r56":0.0373},{"bc0":4.7109,"bc1":5.9012,"r56":0.0375},{"bc0":4.7109,"bc1":6.0749,"r56":0.0377},{"bc0":4.7109,"bc1":6.2486,"r56":0.0379},{"bc0":4.7109,"bc1":6.4223,"r56":0.0381},{"bc0":4.7109,"bc1":6.596,"r56":0.0383},{"bc0":4.7109,"bc1":6.7697,"r56":0.0385},{"bc0":4.7109,"bc1":6.9434,"r56":0.0386},{"bc0":4.7109,"bc1":7.1171,"r56":0.0388},{"bc0":4.7109,"bc1":7.2908,"r56":0.0389},{"bc0":4.7109,"bc1":7.4645,"r56":0.0391},{"bc0":4.7109,"bc1":7.6382,"r56":0.0392},{"bc0":4.7109,"bc1":7.8119,"r56":0.0393},{"bc0":4.7109,"bc1":7.9856,"r56":0.0395},{"bc0":4.7109,"bc1":8.1593,"r56":0.0396},{"bc0":4.7109,"bc1":8.333,"r56":0.0397},{"bc0":4.7109,"bc1":8.5067,"r56":0.0398},{"bc0":4.7109,"bc1":8.6804,"r56":0.0399},{"bc0":4.7109,"bc1":8.8541,"r56":0.0400},{"bc0":4.7109,"bc1":9.0278,"r56":0.0401},{"bc0":4.7109,"bc1":9.2015,"r56":0.0402},{"bc0":4.7109,"bc1":9.3752,"r56":0.0403},{"bc0":4.7109,"bc1":9.5489,"r56":0.0404},{"bc0":4.7109,"bc1":9.7226,"r56":0.0404},{"bc0":4.7109,"bc1":9.8963,"r56":0.0405},
{"bc0":4.8846,"bc1":1.385,"r56":0.0139},{"bc0":4.8846,"bc1":1.5587,"r56":0.0170},{"bc0":4.8846,"bc1":1.7324,"r56":0.0195},{"bc0":4.8846,"bc1":1.9061,"r56":0.0216},{"bc0":4.8846,"bc1":2.0798,"r56":0.0233},{"bc0":4.8846,"bc1":2.2535,"r56":0.0248},{"bc0":4.8846,"bc1":2.4272,"r56":0.0261},{"bc0":4.8846,"bc1":2.6009,"r56":0.0272},{"bc0":4.8846,"bc1":2.7746,"r56":0.0282},{"bc0":4.8846,"bc1":2.9483,"r56":0.0290},{"bc0":4.8846,"bc1":3.122,"r56":0.0298},{"bc0":4.8846,"bc1":3.2957,"r56":0.0305},{"bc0":4.8846,"bc1":3.4694,"r56":0.0311},{"bc0":4.8846,"bc1":3.6431,"r56":0.0317},{"bc0":4.8846,"bc1":3.8168,"r56":0.0322},{"bc0":4.8846,"bc1":3.9905,"r56":0.0327},{"bc0":4.8846,"bc1":4.1642,"r56":0.0331},{"bc0":4.8846,"bc1":4.3379,"r56":0.0335},{"bc0":4.8846,"bc1":4.5116,"r56":0.0339},{"bc0":4.8846,"bc1":4.6853,"r56":0.0342},{"bc0":4.8846,"bc1":4.859,"r56":0.0345},{"bc0":4.8846,"bc1":5.0327,"r56":0.0348},{"bc0":4.8846,"bc1":5.2064,"r56":0.0351},{"bc0":4.8846,"bc1":5.3801,"r56":0.0354},{"bc0":4.8846,"bc1":5.5538,"r56":0.0356},{"bc0":4.8846,"bc1":5.7275,"r56":0.0359},{"bc0":4.8846,"bc1":5.9012,"r56":0.0361},{"bc0":4.8846,"bc1":6.0749,"r56":0.0363},{"bc0":4.8846,"bc1":6.2486,"r56":0.0365},{"bc0":4.8846,"bc1":6.4223,"r56":0.0366},{"bc0":4.8846,"bc1":6.596,"r56":0.0368},{"bc0":4.8846,"bc1":6.7697,"r56":0.0370},{"bc0":4.8846,"bc1":6.9434,"r56":0.0371},{"bc0":4.8846,"bc1":7.1171,"r56":0.0373},{"bc0":4.8846,"bc1":7.2908,"r56":0.0374},{"bc0":4.8846,"bc1":7.4645,"r56":0.0376},{"bc0":4.8846,"bc1":7.6382,"r56":0.0377},{"bc0":4.8846,"bc1":7.8119,"r56":0.0378},{"bc0":4.8846,"bc1":7.9856,"r56":0.0379},{"bc0":4.8846,"bc1":8.1593,"r56":0.0380},{"bc0":4.8846,"bc1":8.333,"r56":0.0382},{"bc0":4.8846,"bc1":8.5067,"r56":0.0383},{"bc0":4.8846,"bc1":8.6804,"r56":0.0384},{"bc0":4.8846,"bc1":8.8541,"r56":0.0385},{"bc0":4.8846,"bc1":9.0278,"r56":0.0385},{"bc0":4.8846,"bc1":9.2015,"r56":0.0386},{"bc0":4.8846,"bc1":9.3752,"r56":0.0387},{"bc0":4.8846,"bc1":9.5489,"r56":0.0388},{"bc0":4.8846,"bc1":9.7226,"r56":0.0389},{"bc0":4.8846,"bc1":9.8963,"r56":0.0390},
{"bc0":5.0583,"bc1":1.385,"r56":0.0134},{"bc0":5.0583,"bc1":1.5587,"r56":0.0164},{"bc0":5.0583,"bc1":1.7324,"r56":0.0188},{"bc0":5.0583,"bc1":1.9061,"r56":0.0208},{"bc0":5.0583,"bc1":2.0798,"r56":0.0225},{"bc0":5.0583,"bc1":2.2535,"r56":0.0239},{"bc0":5.0583,"bc1":2.4272,"r56":0.0251},{"bc0":5.0583,"bc1":2.6009,"r56":0.0262},{"bc0":5.0583,"bc1":2.7746,"r56":0.0271},{"bc0":5.0583,"bc1":2.9483,"r56":0.0280},{"bc0":5.0583,"bc1":3.122,"r56":0.0287},{"bc0":5.0583,"bc1":3.2957,"r56":0.0294},{"bc0":5.0583,"bc1":3.4694,"r56":0.0300},{"bc0":5.0583,"bc1":3.6431,"r56":0.0305},{"bc0":5.0583,"bc1":3.8168,"r56":0.0310},{"bc0":5.0583,"bc1":3.9905,"r56":0.0315},{"bc0":5.0583,"bc1":4.1642,"r56":0.0319},{"bc0":5.0583,"bc1":4.3379,"r56":0.0323},{"bc0":5.0583,"bc1":4.5116,"r56":0.0326},{"bc0":5.0583,"bc1":4.6853,"r56":0.0330},{"bc0":5.0583,"bc1":4.859,"r56":0.0333},{"bc0":5.0583,"bc1":5.0327,"r56":0.0336},{"bc0":5.0583,"bc1":5.2064,"r56":0.0338},{"bc0":5.0583,"bc1":5.3801,"r56":0.0341},{"bc0":5.0583,"bc1":5.5538,"r56":0.0343},{"bc0":5.0583,"bc1":5.7275,"r56":0.0345},{"bc0":5.0583,"bc1":5.9012,"r56":0.0347},{"bc0":5.0583,"bc1":6.0749,"r56":0.0349},{"bc0":5.0583,"bc1":6.2486,"r56":0.0351},{"bc0":5.0583,"bc1":6.4223,"r56":0.0353},{"bc0":5.0583,"bc1":6.596,"r56":0.0355},{"bc0":5.0583,"bc1":6.7697,"r56":0.0356},{"bc0":5.0583,"bc1":6.9434,"r56":0.0358},{"bc0":5.0583,"bc1":7.1171,"r56":0.0359},{"bc0":5.0583,"bc1":7.2908,"r56":0.0360},{"bc0":5.0583,"bc1":7.4645,"r56":0.0362},{"bc0":5.0583,"bc1":7.6382,"r56":0.0363},{"bc0":5.0583,"bc1":7.8119,"r56":0.0364},{"bc0":5.0583,"bc1":7.9856,"r56":0.0365},{"bc0":5.0583,"bc1":8.1593,"r56":0.0366},{"bc0":5.0583,"bc1":8.333,"r56":0.0367},{"bc0":5.0583,"bc1":8.5067,"r56":0.0368},{"bc0":5.0583,"bc1":8.6804,"r56":0.0369},{"bc0":5.0583,"bc1":8.8541,"r56":0.0370},{"bc0":5.0583,"bc1":9.0278,"r56":0.0371},{"bc0":5.0583,"bc1":9.2015,"r56":0.0372},{"bc0":5.0583,"bc1":9.3752,"r56":0.0373},{"bc0":5.0583,"bc1":9.5489,"r56":0.0374},{"bc0":5.0583,"bc1":9.7226,"r56":0.0374},{"bc0":5.0583,"bc1":9.8963,"r56":0.0375},
{"bc0":5.232,"bc1":1.385,"r56":0.0129},{"bc0":5.232,"bc1":1.5587,"r56":0.0158},{"bc0":5.232,"bc1":1.7324,"r56":0.0181},{"bc0":5.232,"bc1":1.9061,"r56":0.0200},{"bc0":5.232,"bc1":2.0798,"r56":0.0216},{"bc0":5.232,"bc1":2.2535,"r56":0.0230},{"bc0":5.232,"bc1":2.4272,"r56":0.0242},{"bc0":5.232,"bc1":2.6009,"r56":0.0252},{"bc0":5.232,"bc1":2.7746,"r56":0.0261},{"bc0":5.232,"bc1":2.9483,"r56":0.0269},{"bc0":5.232,"bc1":3.122,"r56":0.0277},{"bc0":5.232,"bc1":3.2957,"r56":0.0283},{"bc0":5.232,"bc1":3.4694,"r56":0.0289},{"bc0":5.232,"bc1":3.6431,"r56":0.0294},{"bc0":5.232,"bc1":3.8168,"r56":0.0299},{"bc0":5.232,"bc1":3.9905,"r56":0.0303},{"bc0":5.232,"bc1":4.1642,"r56":0.0307},{"bc0":5.232,"bc1":4.3379,"r56":0.0311},{"bc0":5.232,"bc1":4.5116,"r56":0.0315},{"bc0":5.232,"bc1":4.6853,"r56":0.0318},{"bc0":5.232,"bc1":4.859,"r56":0.0321},{"bc0":5.232,"bc1":5.0327,"r56":0.0323},{"bc0":5.232,"bc1":5.2064,"r56":0.0326},{"bc0":5.232,"bc1":5.3801,"r56":0.0328},{"bc0":5.232,"bc1":5.5538,"r56":0.0331},{"bc0":5.232,"bc1":5.7275,"r56":0.0333},{"bc0":5.232,"bc1":5.9012,"r56":0.0335},{"bc0":5.232,"bc1":6.0749,"r56":0.0337},{"bc0":5.232,"bc1":6.2486,"r56":0.0338},{"bc0":5.232,"bc1":6.4223,"r56":0.0340},{"bc0":5.232,"bc1":6.596,"r56":0.0342},{"bc0":5.232,"bc1":6.7697,"r56":0.0343},{"bc0":5.232,"bc1":6.9434,"r56":0.0345},{"bc0":5.232,"bc1":7.1171,"r56":0.0346},{"bc0":5.232,"bc1":7.2908,"r56":0.0347},{"bc0":5.232,"bc1":7.4645,"r56":0.0349},{"bc0":5.232,"bc1":7.6382,"r56":0.0350},{"bc0":5.232,"bc1":7.8119,"r56":0.0351},{"bc0":5.232,"bc1":7.9856,"r56":0.0352},{"bc0":5.232,"bc1":8.1593,"r56":0.0353},{"bc0":5.232,"bc1":8.333,"r56":0.0354},{"bc0":5.232,"bc1":8.5067,"r56":0.0355},{"bc0":5.232,"bc1":8.6804,"r56":0.0356},{"bc0":5.232,"bc1":8.8541,"r56":0.0357},{"bc0":5.232,"bc1":9.0278,"r56":0.0358},{"bc0":5.232,"bc1":9.2015,"r56":0.0359},{"bc0":5.232,"bc1":9.3752,"r56":0.0359},{"bc0":5.232,"bc1":9.5489,"r56":0.0360},{"bc0":5.232,"bc1":9.7226,"r56":0.0361},{"bc0":5.232,"bc1":9.8963,"r56":0.0362},
{"bc0":5.4057,"bc1":1.385,"r56":0.0124},{"bc0":5.4057,"bc1":1.5587,"r56":0.0152},{"bc0":5.4057,"bc1":1.7324,"r56":0.0175},{"bc0":5.4057,"bc1":1.9061,"r56":0.0193},{"bc0":5.4057,"bc1":2.0798,"r56":0.0209},{"bc0":5.4057,"bc1":2.2535,"r56":0.0222},{"bc0":5.4057,"bc1":2.4272,"r56":0.0234},{"bc0":5.4057,"bc1":2.6009,"r56":0.0244},{"bc0":5.4057,"bc1":2.7746,"r56":0.0252},{"bc0":5.4057,"bc1":2.9483,"r56":0.0260},{"bc0":5.4057,"bc1":3.122,"r56":0.0267},{"bc0":5.4057,"bc1":3.2957,"r56":0.0273},{"bc0":5.4057,"bc1":3.4694,"r56":0.0279},{"bc0":5.4057,"bc1":3.6431,"r56":0.0284},{"bc0":5.4057,"bc1":3.8168,"r56":0.0288},{"bc0":5.4057,"bc1":3.9905,"r56":0.0293},{"bc0":5.4057,"bc1":4.1642,"r56":0.0297},{"bc0":5.4057,"bc1":4.3379,"r56":0.0300},{"bc0":5.4057,"bc1":4.5116,"r56":0.0303},{"bc0":5.4057,"bc1":4.6853,"r56":0.0306},{"bc0":5.4057,"bc1":4.859,"r56":0.0309},{"bc0":5.4057,"bc1":5.0327,"r56":0.0312},{"bc0":5.4057,"bc1":5.2064,"r56":0.0315},{"bc0":5.4057,"bc1":5.3801,"r56":0.0317},{"bc0":5.4057,"bc1":5.5538,"r56":0.0319},{"bc0":5.4057,"bc1":5.7275,"r56":0.0321},{"bc0":5.4057,"bc1":5.9012,"r56":0.0323},{"bc0":5.4057,"bc1":6.0749,"r56":0.0325},{"bc0":5.4057,"bc1":6.2486,"r56":0.0327},{"bc0":5.4057,"bc1":6.4223,"r56":0.0328},{"bc0":5.4057,"bc1":6.596,"r56":0.0330},{"bc0":5.4057,"bc1":6.7697,"r56":0.0331},{"bc0":5.4057,"bc1":6.9434,"r56":0.0333},{"bc0":5.4057,"bc1":7.1171,"r56":0.0334},{"bc0":5.4057,"bc1":7.2908,"r56":0.0335},{"bc0":5.4057,"bc1":7.4645,"r56":0.0336},{"bc0":5.4057,"bc1":7.6382,"r56":0.0338},{"bc0":5.4057,"bc1":7.8119,"r56":0.0339},{"bc0":5.4057,"bc1":7.9856,"r56":0.0340},{"bc0":5.4057,"bc1":8.1593,"r56":0.0341},{"bc0":5.4057,"bc1":8.333,"r56":0.0342},{"bc0":5.4057,"bc1":8.5067,"r56":0.0343},{"bc0":5.4057,"bc1":8.6804,"r56":0.0344},{"bc0":5.4057,"bc1":8.8541,"r56":0.0344},{"bc0":5.4057,"bc1":9.0278,"r56":0.0345},{"bc0":5.4057,"bc1":9.2015,"r56":0.0346},{"bc0":5.4057,"bc1":9.3752,"r56":0.0347},{"bc0":5.4057,"bc1":9.5489,"r56":0.0348},{"bc0":5.4057,"bc1":9.7226,"r56":0.0348},{"bc0":5.4057,"bc1":9.8963,"r56":0.0349},
{"bc0":5.5794,"bc1":1.385,"r56":0.0120},{"bc0":5.5794,"bc1":1.5587,"r56":0.0147},{"bc0":5.5794,"bc1":1.7324,"r56":0.0169},{"bc0":5.5794,"bc1":1.9061,"r56":0.0187},{"bc0":5.5794,"bc1":2.0798,"r56":0.0202},{"bc0":5.5794,"bc1":2.2535,"r56":0.0215},{"bc0":5.5794,"bc1":2.4272,"r56":0.0226},{"bc0":5.5794,"bc1":2.6009,"r56":0.0235},{"bc0":5.5794,"bc1":2.7746,"r56":0.0244},{"bc0":5.5794,"bc1":2.9483,"r56":0.0251},{"bc0":5.5794,"bc1":3.122,"r56":0.0258},{"bc0":5.5794,"bc1":3.2957,"r56":0.0264},{"bc0":5.5794,"bc1":3.4694,"r56":0.0269},{"bc0":5.5794,"bc1":3.6431,"r56":0.0274},{"bc0":5.5794,"bc1":3.8168,"r56":0.0279},{"bc0":5.5794,"bc1":3.9905,"r56":0.0283},{"bc0":5.5794,"bc1":4.1642,"r56":0.0287},{"bc0":5.5794,"bc1":4.3379,"r56":0.0290},{"bc0":5.5794,"bc1":4.5116,"r56":0.0293},{"bc0":5.5794,"bc1":4.6853,"r56":0.0296},{"bc0":5.5794,"bc1":4.859,"r56":0.0299},{"bc0":5.5794,"bc1":5.0327,"r56":0.0301},{"bc0":5.5794,"bc1":5.2064,"r56":0.0304},{"bc0":5.5794,"bc1":5.3801,"r56":0.0306},{"bc0":5.5794,"bc1":5.5538,"r56":0.0308},{"bc0":5.5794,"bc1":5.7275,"r56":0.0310},{"bc0":5.5794,"bc1":5.9012,"r56":0.0312},{"bc0":5.5794,"bc1":6.0749,"r56":0.0314},{"bc0":5.5794,"bc1":6.2486,"r56":0.0316},{"bc0":5.5794,"bc1":6.4223,"r56":0.0317},{"bc0":5.5794,"bc1":6.596,"r56":0.0319},{"bc0":5.5794,"bc1":6.7697,"r56":0.0320},{"bc0":5.5794,"bc1":6.9434,"r56":0.0321},{"bc0":5.5794,"bc1":7.1171,"r56":0.0323},{"bc0":5.5794,"bc1":7.2908,"r56":0.0324},{"bc0":5.5794,"bc1":7.4645,"r56":0.0325},{"bc0":5.5794,"bc1":7.6382,"r56":0.0326},{"bc0":5.5794,"bc1":7.8119,"r56":0.0327},{"bc0":5.5794,"bc1":7.9856,"r56":0.0328},{"bc0":5.5794,"bc1":8.1593,"r56":0.0329},{"bc0":5.5794,"bc1":8.333,"r56":0.0330},{"bc0":5.5794,"bc1":8.5067,"r56":0.0331},{"bc0":5.5794,"bc1":8.6804,"r56":0.0332},{"bc0":5.5794,"bc1":8.8541,"r56":0.0333},{"bc0":5.5794,"bc1":9.0278,"r56":0.0334},{"bc0":5.5794,"bc1":9.2015,"r56":0.0334},{"bc0":5.5794,"bc1":9.3752,"r56":0.0335},{"bc0":5.5794,"bc1":9.5489,"r56":0.0336},
{"bc0":5.7531,"bc1":1.385,"r56":0.0116},{"bc0":5.7531,"bc1":1.5587,"r56":0.0142},{"bc0":5.7531,"bc1":1.7324,"r56":0.0163},{"bc0":5.7531,"bc1":1.9061,"r56":0.0180},{"bc0":5.7531,"bc1":2.0798,"r56":0.0195},{"bc0":5.7531,"bc1":2.2535,"r56":0.0207},{"bc0":5.7531,"bc1":2.4272,"r56":0.0218},{"bc0":5.7531,"bc1":2.6009,"r56":0.0227},{"bc0":5.7531,"bc1":2.7746,"r56":0.0236},{"bc0":5.7531,"bc1":2.9483,"r56":0.0243},{"bc0":5.7531,"bc1":3.122,"r56":0.0249},{"bc0":5.7531,"bc1":3.2957,"r56":0.0255},{"bc0":5.7531,"bc1":3.4694,"r56":0.0260},{"bc0":5.7531,"bc1":3.6431,"r56":0.0265},{"bc0":5.7531,"bc1":3.8168,"r56":0.0269},{"bc0":5.7531,"bc1":3.9905,"r56":0.0273},{"bc0":5.7531,"bc1":4.1642,"r56":0.0277},{"bc0":5.7531,"bc1":4.3379,"r56":0.0280},{"bc0":5.7531,"bc1":4.5116,"r56":0.0283},{"bc0":5.7531,"bc1":4.6853,"r56":0.0286},{"bc0":5.7531,"bc1":4.859,"r56":0.0289},{"bc0":5.7531,"bc1":5.0327,"r56":0.0291},{"bc0":5.7531,"bc1":5.2064,"r56":0.0294},{"bc0":5.7531,"bc1":5.3801,"r56":0.0296},{"bc0":5.7531,"bc1":5.5538,"r56":0.0298},{"bc0":5.7531,"bc1":5.7275,"r56":0.0300},{"bc0":5.7531,"bc1":5.9012,"r56":0.0302},{"bc0":5.7531,"bc1":6.0749,"r56":0.0303},{"bc0":5.7531,"bc1":6.2486,"r56":0.0305},{"bc0":5.7531,"bc1":6.4223,"r56":0.0307},{"bc0":5.7531,"bc1":6.596,"r56":0.0308},{"bc0":5.7531,"bc1":6.7697,"r56":0.0309},{"bc0":5.7531,"bc1":6.9434,"r56":0.0311},{"bc0":5.7531,"bc1":7.1171,"r56":0.0312},{"bc0":5.7531,"bc1":7.2908,"r56":0.0313},{"bc0":5.7531,"bc1":7.4645,"r56":0.0314},{"bc0":5.7531,"bc1":7.6382,"r56":0.0315},{"bc0":5.7531,"bc1":7.8119,"r56":0.0316},{"bc0":5.7531,"bc1":7.9856,"r56":0.0317},{"bc0":5.7531,"bc1":8.1593,"r56":0.0318},{"bc0":5.7531,"bc1":8.333,"r56":0.0319},{"bc0":5.7531,"bc1":8.5067,"r56":0.0320},{"bc0":5.7531,"bc1":8.6804,"r56":0.0321},{"bc0":5.7531,"bc1":8.8541,"r56":0.0322},{"bc0":5.7531,"bc1":9.0278,"r56":0.0322},{"bc0":5.7531,"bc1":9.2015,"r56":0.0323},
{"bc0":5.9268,"bc1":1.385,"r56":0.0112},{"bc0":5.9268,"bc1":1.5587,"r56":0.0138},{"bc0":5.9268,"bc1":1.7324,"r56":0.0158},{"bc0":5.9268,"bc1":1.9061,"r56":0.0175},{"bc0":5.9268,"bc1":2.0798,"r56":0.0189},{"bc0":5.9268,"bc1":2.2535,"r56":0.0201},{"bc0":5.9268,"bc1":2.4272,"r56":0.0211},{"bc0":5.9268,"bc1":2.6009,"r56":0.0220},{"bc0":5.9268,"bc1":2.7746,"r56":0.0228},{"bc0":5.9268,"bc1":2.9483,"r56":0.0235},{"bc0":5.9268,"bc1":3.122,"r56":0.0241},{"bc0":5.9268,"bc1":3.2957,"r56":0.0247},{"bc0":5.9268,"bc1":3.4694,"r56":0.0252},{"bc0":5.9268,"bc1":3.6431,"r56":0.0256},{"bc0":5.9268,"bc1":3.8168,"r56":0.0261},{"bc0":5.9268,"bc1":3.9905,"r56":0.0265},{"bc0":5.9268,"bc1":4.1642,"r56":0.0268},{"bc0":5.9268,"bc1":4.3379,"r56":0.0271},{"bc0":5.9268,"bc1":4.5116,"r56":0.0274},{"bc0":5.9268,"bc1":4.6853,"r56":0.0277},{"bc0":5.9268,"bc1":4.859,"r56":0.0280},{"bc0":5.9268,"bc1":5.0327,"r56":0.0282},{"bc0":5.9268,"bc1":5.2064,"r56":0.0284},{"bc0":5.9268,"bc1":5.3801,"r56":0.0286},{"bc0":5.9268,"bc1":5.5538,"r56":0.0288},{"bc0":5.9268,"bc1":5.7275,"r56":0.0290},{"bc0":5.9268,"bc1":5.9012,"r56":0.0292},{"bc0":5.9268,"bc1":6.0749,"r56":0.0294},{"bc0":5.9268,"bc1":6.2486,"r56":0.0295},{"bc0":5.9268,"bc1":6.4223,"r56":0.0297},{"bc0":5.9268,"bc1":6.596,"r56":0.0298},{"bc0":5.9268,"bc1":6.7697,"r56":0.0299},{"bc0":5.9268,"bc1":6.9434,"r56":0.0301},{"bc0":5.9268,"bc1":7.1171,"r56":0.0302},{"bc0":5.9268,"bc1":7.2908,"r56":0.0303},{"bc0":5.9268,"bc1":7.4645,"r56":0.0304},{"bc0":5.9268,"bc1":7.6382,"r56":0.0305},{"bc0":5.9268,"bc1":7.8119,"r56":0.0306},{"bc0":5.9268,"bc1":7.9856,"r56":0.0307},{"bc0":5.9268,"bc1":8.1593,"r56":0.0308},{"bc0":5.9268,"bc1":8.333,"r56":0.0309},{"bc0":5.9268,"bc1":8.5067,"r56":0.0310},{"bc0":5.9268,"bc1":8.6804,"r56":0.0310},{"bc0":5.9268,"bc1":8.8541,"r56":0.0311},{"bc0":5.9268,"bc1":9.0278,"r56":0.0312},
{"bc0":6.1005,"bc1":1.385,"r56":0.0109},{"bc0":6.1005,"bc1":1.5587,"r56":0.0133},{"bc0":6.1005,"bc1":1.7324,"r56":0.0153},{"bc0":6.1005,"bc1":1.9061,"r56":0.0169},{"bc0":6.1005,"bc1":2.0798,"r56":0.0183},{"bc0":6.1005,"bc1":2.2535,"r56":0.0194},{"bc0":6.1005,"bc1":2.4272,"r56":0.0204},{"bc0":6.1005,"bc1":2.6009,"r56":0.0213},{"bc0":6.1005,"bc1":2.7746,"r56":0.0221},{"bc0":6.1005,"bc1":2.9483,"r56":0.0228},{"bc0":6.1005,"bc1":3.122,"r56":0.0234},{"bc0":6.1005,"bc1":3.2957,"r56":0.0239},{"bc0":6.1005,"bc1":3.4694,"r56":0.0244},{"bc0":6.1005,"bc1":3.6431,"r56":0.0248},{"bc0":6.1005,"bc1":3.8168,"r56":0.0253},{"bc0":6.1005,"bc1":3.9905,"r56":0.0256},{"bc0":6.1005,"bc1":4.1642,"r56":0.0260},{"bc0":6.1005,"bc1":4.3379,"r56":0.0263},{"bc0":6.1005,"bc1":4.5116,"r56":0.0266},{"bc0":6.1005,"bc1":4.6853,"r56":0.0268},{"bc0":6.1005,"bc1":4.859,"r56":0.0271},{"bc0":6.1005,"bc1":5.0327,"r56":0.0273},{"bc0":6.1005,"bc1":5.2064,"r56":0.0275},{"bc0":6.1005,"bc1":5.3801,"r56":0.0277},{"bc0":6.1005,"bc1":5.5538,"r56":0.0279},{"bc0":6.1005,"bc1":5.7275,"r56":0.0281},{"bc0":6.1005,"bc1":5.9012,"r56":0.0283},{"bc0":6.1005,"bc1":6.0749,"r56":0.0284},{"bc0":6.1005,"bc1":6.2486,"r56":0.0286},{"bc0":6.1005,"bc1":6.4223,"r56":0.0287},{"bc0":6.1005,"bc1":6.596,"r56":0.0289},{"bc0":6.1005,"bc1":6.7697,"r56":0.0290},{"bc0":6.1005,"bc1":6.9434,"r56":0.0291},{"bc0":6.1005,"bc1":7.1171,"r56":0.0292},{"bc0":6.1005,"bc1":7.2908,"r56":0.0293},{"bc0":6.1005,"bc1":7.4645,"r56":0.0295},{"bc0":6.1005,"bc1":7.6382,"r56":0.0296},{"bc0":6.1005,"bc1":7.8119,"r56":0.0296},{"bc0":6.1005,"bc1":7.9856,"r56":0.0297},{"bc0":6.1005,"bc1":8.1593,"r56":0.0298},{"bc0":6.1005,"bc1":8.333,"r56":0.0299},{"bc0":6.1005,"bc1":8.5067,"r56":0.0300},{"bc0":6.1005,"bc1":8.6804,"r56":0.0301},
{"bc0":6.2742,"bc1":1.385,"r56":0.0105},{"bc0":6.2742,"bc1":1.5587,"r56":0.0129},{"bc0":6.2742,"bc1":1.7324,"r56":0.0148},{"bc0":6.2742,"bc1":1.9061,"r56":0.0164},{"bc0":6.2742,"bc1":2.0798,"r56":0.0177},{"bc0":6.2742,"bc1":2.2535,"r56":0.0188},{"bc0":6.2742,"bc1":2.4272,"r56":0.0198},{"bc0":6.2742,"bc1":2.6009,"r56":0.0207},{"bc0":6.2742,"bc1":2.7746,"r56":0.0214},{"bc0":6.2742,"bc1":2.9483,"r56":0.0221},{"bc0":6.2742,"bc1":3.122,"r56":0.0226},{"bc0":6.2742,"bc1":3.2957,"r56":0.0232},{"bc0":6.2742,"bc1":3.4694,"r56":0.0236},{"bc0":6.2742,"bc1":3.6431,"r56":0.0241},{"bc0":6.2742,"bc1":3.8168,"r56":0.0245},{"bc0":6.2742,"bc1":3.9905,"r56":0.0248},{"bc0":6.2742,"bc1":4.1642,"r56":0.0252},{"bc0":6.2742,"bc1":4.3379,"r56":0.0255},{"bc0":6.2742,"bc1":4.5116,"r56":0.0257},{"bc0":6.2742,"bc1":4.6853,"r56":0.0260},{"bc0":6.2742,"bc1":4.859,"r56":0.0262},{"bc0":6.2742,"bc1":5.0327,"r56":0.0265},{"bc0":6.2742,"bc1":5.2064,"r56":0.0267},{"bc0":6.2742,"bc1":5.3801,"r56":0.0269},{"bc0":6.2742,"bc1":5.5538,"r56":0.0271},{"bc0":6.2742,"bc1":5.7275,"r56":0.0272},{"bc0":6.2742,"bc1":5.9012,"r56":0.0274},{"bc0":6.2742,"bc1":6.0749,"r56":0.0276},{"bc0":6.2742,"bc1":6.2486,"r56":0.0277},{"bc0":6.2742,"bc1":6.4223,"r56":0.0278},{"bc0":6.2742,"bc1":6.596,"r56":0.0280},{"bc0":6.2742,"bc1":6.7697,"r56":0.0281},{"bc0":6.2742,"bc1":6.9434,"r56":0.0282},{"bc0":6.2742,"bc1":7.1171,"r56":0.0283},{"bc0":6.2742,"bc1":7.2908,"r56":0.0284},{"bc0":6.2742,"bc1":7.4645,"r56":0.0285},{"bc0":6.2742,"bc1":7.6382,"r56":0.0286},{"bc0":6.2742,"bc1":7.8119,"r56":0.0287},{"bc0":6.2742,"bc1":7.9856,"r56":0.0288},{"bc0":6.2742,"bc1":8.1593,"r56":0.0289},{"bc0":6.2742,"bc1":8.333,"r56":0.0290},{"bc0":6.2742,"bc1":8.5067,"r56":0.0291},
{"bc0":6.4479,"bc1":1.385,"r56":0.0102},{"bc0":6.4479,"bc1":1.5587,"r56":0.0125},{"bc0":6.4479,"bc1":1.7324,"r56":0.0144},{"bc0":6.4479,"bc1":1.9061,"r56":0.0159},{"bc0":6.4479,"bc1":2.0798,"r56":0.0172},{"bc0":6.4479,"bc1":2.2535,"r56":0.0183},{"bc0":6.4479,"bc1":2.4272,"r56":0.0192},{"bc0":6.4479,"bc1":2.6009,"r56":0.0200},{"bc0":6.4479,"bc1":2.7746,"r56":0.0208},{"bc0":6.4479,"bc1":2.9483,"r56":0.0214},{"bc0":6.4479,"bc1":3.122,"r56":0.0220},{"bc0":6.4479,"bc1":3.2957,"r56":0.0225},{"bc0":6.4479,"bc1":3.4694,"r56":0.0229},{"bc0":6.4479,"bc1":3.6431,"r56":0.0233},{"bc0":6.4479,"bc1":3.8168,"r56":0.0237},{"bc0":6.4479,"bc1":3.9905,"r56":0.0241},{"bc0":6.4479,"bc1":4.1642,"r56":0.0244},{"bc0":6.4479,"bc1":4.3379,"r56":0.0247},{"bc0":6.4479,"bc1":4.5116,"r56":0.0250},{"bc0":6.4479,"bc1":4.6853,"r56":0.0252},{"bc0":6.4479,"bc1":4.859,"r56":0.0254},{"bc0":6.4479,"bc1":5.0327,"r56":0.0257},{"bc0":6.4479,"bc1":5.2064,"r56":0.0259},{"bc0":6.4479,"bc1":5.3801,"r56":0.0261},{"bc0":6.4479,"bc1":5.5538,"r56":0.0262},{"bc0":6.4479,"bc1":5.7275,"r56":0.0264},{"bc0":6.4479,"bc1":5.9012,"r56":0.0266},{"bc0":6.4479,"bc1":6.0749,"r56":0.0267},{"bc0":6.4479,"bc1":6.2486,"r56":0.0269},{"bc0":6.4479,"bc1":6.4223,"r56":0.0270},{"bc0":6.4479,"bc1":6.596,"r56":0.0271},{"bc0":6.4479,"bc1":6.7697,"r56":0.0272},{"bc0":6.4479,"bc1":6.9434,"r56":0.0274},{"bc0":6.4479,"bc1":7.1171,"r56":0.0275},{"bc0":6.4479,"bc1":7.2908,"r56":0.0276},{"bc0":6.4479,"bc1":7.4645,"r56":0.0277},{"bc0":6.4479,"bc1":7.6382,"r56":0.0278},{"bc0":6.4479,"bc1":7.8119,"r56":0.0279},{"bc0":6.4479,"bc1":7.9856,"r56":0.0279},{"bc0":6.4479,"bc1":8.1593,"r56":0.0280},
{"bc0":6.6216,"bc1":1.385,"r56":0.0099},{"bc0":6.6216,"bc1":1.5587,"r56":0.0122},{"bc0":6.6216,"bc1":1.7324,"r56":0.0139},{"bc0":6.6216,"bc1":1.9061,"r56":0.0154},{"bc0":6.6216,"bc1":2.0798,"r56":0.0167},{"bc0":6.6216,"bc1":2.2535,"r56":0.0177},{"bc0":6.6216,"bc1":2.4272,"r56":0.0186},{"bc0":6.6216,"bc1":2.6009,"r56":0.0194},{"bc0":6.6216,"bc1":2.7746,"r56":0.0201},{"bc0":6.6216,"bc1":2.9483,"r56":0.0208},{"bc0":6.6216,"bc1":3.122,"r56":0.0213},{"bc0":6.6216,"bc1":3.2957,"r56":0.0218},{"bc0":6.6216,"bc1":3.4694,"r56":0.0223},{"bc0":6.6216,"bc1":3.6431,"r56":0.0227},{"bc0":6.6216,"bc1":3.8168,"r56":0.0230},{"bc0":6.6216,"bc1":3.9905,"r56":0.0234},{"bc0":6.6216,"bc1":4.1642,"r56":0.0237},{"bc0":6.6216,"bc1":4.3379,"r56":0.0240},{"bc0":6.6216,"bc1":4.5116,"r56":0.0242},{"bc0":6.6216,"bc1":4.6853,"r56":0.0245},{"bc0":6.6216,"bc1":4.859,"r56":0.0247},{"bc0":6.6216,"bc1":5.0327,"r56":0.0249},{"bc0":6.6216,"bc1":5.2064,"r56":0.0251},{"bc0":6.6216,"bc1":5.3801,"r56":0.0253},{"bc0":6.6216,"bc1":5.5538,"r56":0.0255},{"bc0":6.6216,"bc1":5.7275,"r56":0.0256},{"bc0":6.6216,"bc1":5.9012,"r56":0.0258},{"bc0":6.6216,"bc1":6.0749,"r56":0.0259},{"bc0":6.6216,"bc1":6.2486,"r56":0.0261},{"bc0":6.6216,"bc1":6.4223,"r56":0.0262},{"bc0":6.6216,"bc1":6.596,"r56":0.0263},{"bc0":6.6216,"bc1":6.7697,"r56":0.0265},{"bc0":6.6216,"bc1":6.9434,"r56":0.0266},{"bc0":6.6216,"bc1":7.1171,"r56":0.0267},{"bc0":6.6216,"bc1":7.2908,"r56":0.0268},{"bc0":6.6216,"bc1":7.4645,"r56":0.0269},{"bc0":6.6216,"bc1":7.6382,"r56":0.0270},{"bc0":6.6216,"bc1":7.8119,"r56":0.0270},{"bc0":6.6216,"bc1":7.9856,"r56":0.0271}
  ]},
  "layer": [
    {
      "mark": {"type": "rect", "clip": true},
      "encoding": {
        "x": {
          "field": "bc0", "type": "quantitative",
          "bin": {"binned": true, "step": 0.1877},
          "scale": {"domain": [1.5, 7], "nice": false, "zero": false},
          "axis": {"orient": "bottom", "values": [2, 3, 4, 5, 6, 7], "format": "d", "labelPadding": 10,
                   "title": "compression in BC0", "titleX": 201, "titleY": 51,
                   "titleAlign": "center", "titleBaseline": "alphabetic"}
        },
        "y": {
          "field": "bc1", "type": "quantitative",
          "bin": {"binned": true, "step": 0.1957},
          "scale": {"domain": [1.5, 10], "nice": false, "zero": false},
          "axis": {"orient": "left", "values": [2, 3, 4, 5, 6, 7, 8, 9, 10], "format": "d", "labelPadding": 11,
                   "title": "compression in BC1", "titleX": -31, "titleY": 203, "titleAngle": -90,
                   "titleAlign": "center", "titleBaseline": "alphabetic"}
        },
        "color": {
          "field": "r56", "type": "quantitative",
          "scale": {"type": "linear", "domain": [0.02, 0.0275, 0.0425, 0.0575, 0.0725, 0.08],
                    "range": ["#000080", "#0000ff", "#00ffff", "#ffff00", "#ff0000", "#800000"],
                    "interpolate": "rgb", "clamp": true, "zero": false, "nice": false},
          "legend": {"type": "gradient", "orient": "none", "legendX": 442, "legendY": 0, "direction": "vertical",
                     "title": null, "padding": 0,
                     "gradientLength": 392, "gradientThickness": 30,
                     "gradientStrokeColor": "black", "gradientStrokeWidth": 1,
                     "values": [0.02, 0.03, 0.04, 0.05, 0.06, 0.07, 0.08], "format": ".2f",
                     "labelFont": "Liberation Sans", "labelFontSize": 14, "labelColor": "black",
                     "labelOffset": 5, "labelOverlap": false,
                     "encoding": {"labels": {"baseline": {"value": "middle"}}}}
        }
      }
    },
    {
      "data": {"values": [{}]},
      "mark": {"type": "point", "opacity": 0},
      "encoding": {
        "x": {"datum": 2, "type": "quantitative",
              "scale": {"domain": [1.5, 7], "nice": false, "zero": false},
              "axis": {"orient": "top", "values": [2, 3, 4, 5, 6, 7], "labels": false, "title": null}},
        "y": {"datum": 2, "type": "quantitative",
              "scale": {"domain": [1.5, 10], "nice": false, "zero": false},
              "axis": {"orient": "right", "values": [2, 3, 4, 5, 6, 7, 8, 9, 10], "labels": false, "title": null}}
      }
    }
  ],
  "resolve": {"axis": {"x": "independent", "y": "independent"}}
}
